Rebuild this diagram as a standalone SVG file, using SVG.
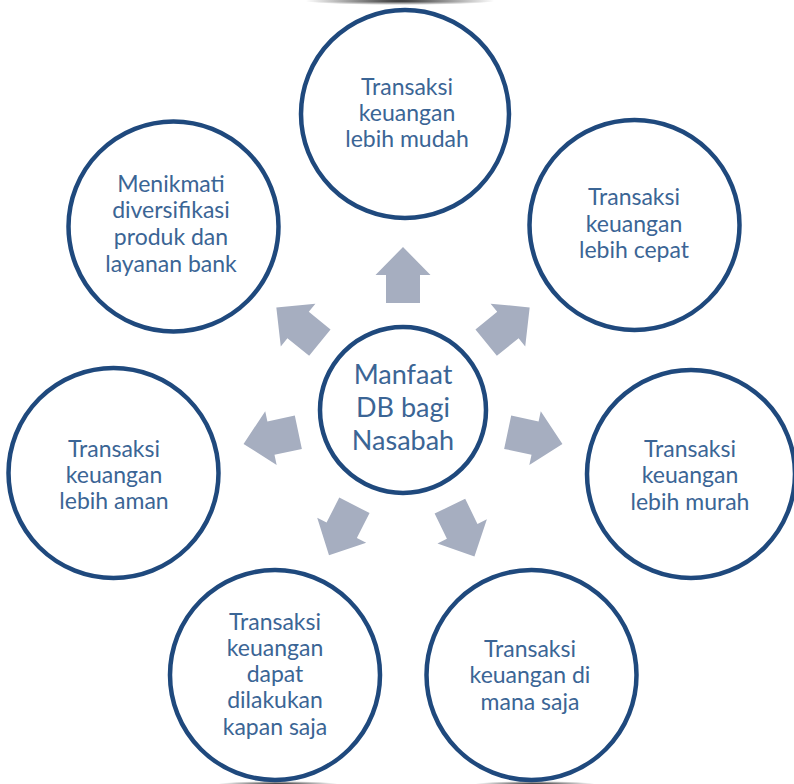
<svg xmlns="http://www.w3.org/2000/svg" xmlns:xlink="http://www.w3.org/1999/xlink" width="794" height="784" viewBox="0 0 794 784">
  <style>
    .ring { fill: #ffffff; stroke: #1f497d; stroke-width: 4.5; }
    .lbl { font-family: Lato, "Open Sans", "Liberation Sans", sans-serif; font-size: 23px; fill: #3b6595; text-anchor: middle; }
    .hub { font-size: 27px; }
    .arrow { fill: #a6aec0; }
    .edge-shade { fill: url(#shade); }
  </style>
  <defs>
    <!-- block arrow pointing along +x, starting just outside the hub ring -->
    <polygon id="arr" points="107,-17 135,-17 135,-27.5 163,0 135,27.5 135,17 107,17"/>
    <radialGradient id="shade" cx="0.5" cy="0.5" r="0.5">
      <stop offset="0" stop-color="#111111" stop-opacity="0.9"/>
      <stop offset="1" stop-color="#111111" stop-opacity="0"/>
    </radialGradient>
  </defs>

  <rect width="794" height="784" fill="#ffffff"/>

  <!-- soft dark edges where the rings meet the frame -->
  <ellipse class="edge-shade" cx="400" cy="1" rx="95" ry="4"/>
  <ellipse class="edge-shade" cx="278" cy="784" rx="60" ry="3"/>
  <ellipse class="edge-shade" cx="535" cy="784" rx="60" ry="3"/>

  <!-- connectors: arrows radiating from the hub -->
  <g id="connectors" class="arrow">
    <use xlink:href="#arr" href="#arr" transform="translate(403 410) rotate(-90)"/>
    <use xlink:href="#arr" href="#arr" transform="translate(403 410) rotate(-39)"/>
    <use xlink:href="#arr" href="#arr" transform="translate(403 410) rotate(12)"/>
    <use xlink:href="#arr" href="#arr" transform="translate(403 410) rotate(64)"/>
    <use xlink:href="#arr" href="#arr" transform="translate(403 410) rotate(117)"/>
    <use xlink:href="#arr" href="#arr" transform="translate(403 410) rotate(168)"/>
    <use xlink:href="#arr" href="#arr" transform="translate(403 410) rotate(-141)"/>
  </g>

  <g id="hub">
    <circle class="ring" cx="403" cy="410" r="83"/>
    <text class="lbl hub" x="403" y="384">Manfaat</text>
    <text class="lbl hub" x="403" y="417">DB bagi</text>
    <text class="lbl hub" x="403" y="450">Nasabah</text>
  </g>

  <g id="mudah">
    <circle class="ring" cx="405" cy="114" r="104"/>
    <text class="lbl" x="407" y="95">Transaksi</text>
    <text class="lbl" x="407" y="121">keuangan</text>
    <text class="lbl" x="407" y="147">lebih mudah</text>
  </g>

  <g id="cepat">
    <circle class="ring" cx="634.5" cy="225" r="105"/>
    <text class="lbl" x="634" y="205">Transaksi</text>
    <text class="lbl" x="634" y="232">keuangan</text>
    <text class="lbl" x="634" y="258">lebih cepat</text>
  </g>

  <g id="murah">
    <circle class="ring" cx="691" cy="474" r="104"/>
    <text class="lbl" x="690" y="457">Transaksi</text>
    <text class="lbl" x="690" y="483">keuangan</text>
    <text class="lbl" x="690" y="510">lebih murah</text>
  </g>

  <g id="di-mana">
    <circle class="ring" cx="531.5" cy="675" r="105"/>
    <text class="lbl" x="530" y="657">Transaksi</text>
    <text class="lbl" x="530" y="683">keuangan di</text>
    <text class="lbl" x="530" y="710">mana saja</text>
  </g>

  <g id="kapan">
    <circle class="ring" cx="275" cy="675" r="105"/>
    <text class="lbl" x="275" y="630">Transaksi</text>
    <text class="lbl" x="275" y="656">keuangan</text>
    <text class="lbl" x="275" y="682">dapat</text>
    <text class="lbl" x="275" y="708">dilakukan</text>
    <text class="lbl" x="275" y="735">kapan saja</text>
  </g>

  <g id="aman">
    <circle class="ring" cx="113.5" cy="473" r="105"/>
    <text class="lbl" x="114" y="457">Transaksi</text>
    <text class="lbl" x="114" y="483">keuangan</text>
    <text class="lbl" x="114" y="509">lebih aman</text>
  </g>

  <g id="diversifikasi">
    <circle class="ring" cx="173.5" cy="226.5" r="105"/>
    <text class="lbl" x="171" y="192">Menikmati</text>
    <text class="lbl" x="171" y="218">diversifikasi</text>
    <text class="lbl" x="171" y="245">produk dan</text>
    <text class="lbl" x="171" y="272">layanan bank</text>
  </g>
</svg>
